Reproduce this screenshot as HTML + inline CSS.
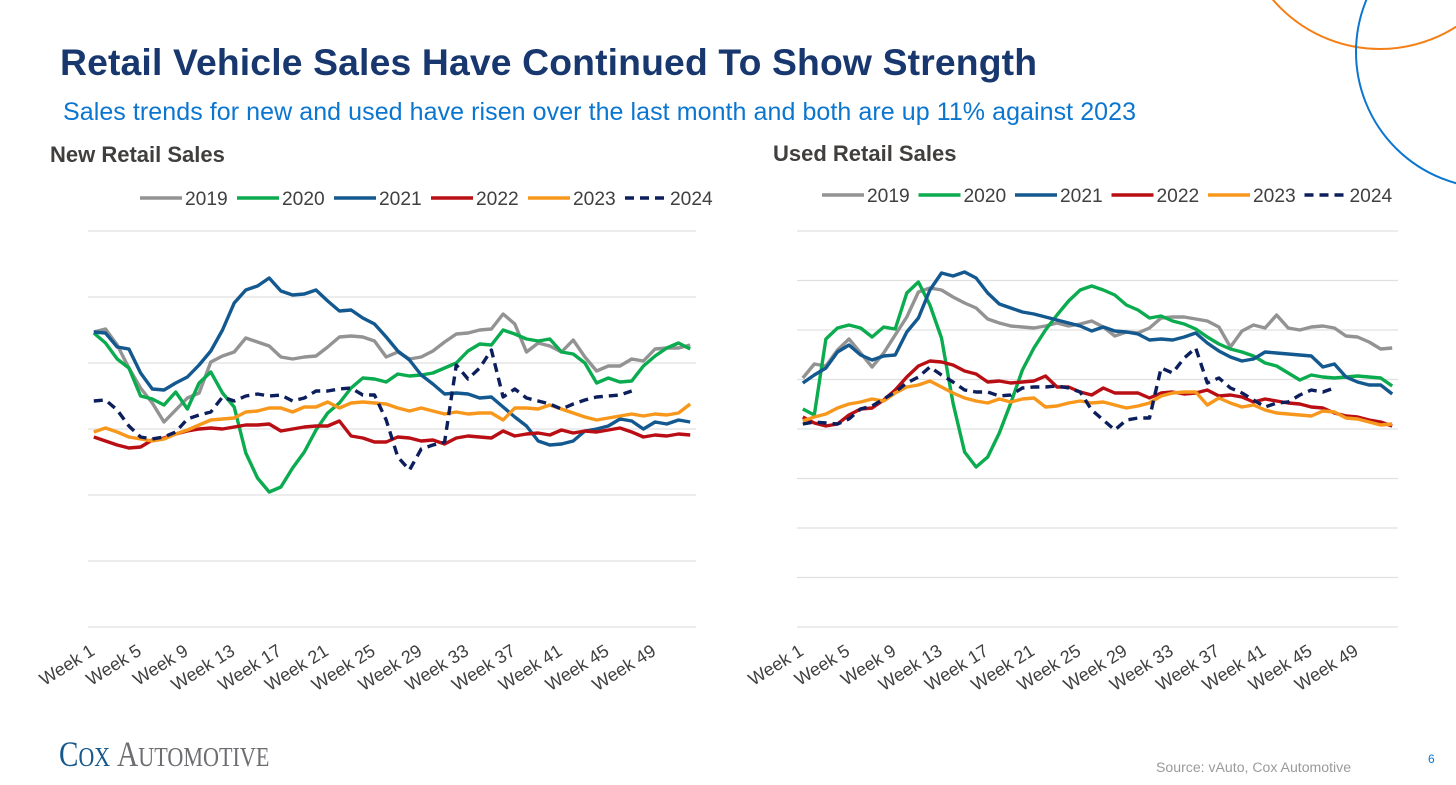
<!DOCTYPE html>
<html lang="en">
<head>
<meta charset="utf-8">
<title>Retail Vehicle Sales Have Continued To Show Strength</title>
<style>
html,body{margin:0;padding:0;background:#fff;}
body{width:1456px;height:785px;overflow:hidden;position:relative;font-family:"Liberation Sans",sans-serif;}
svg{position:absolute;left:0;top:0;}
text{font-family:"Liberation Sans",sans-serif;}
</style>
</head>
<body>
<svg id="slide-svg" width="1456" height="785" viewBox="0 0 1456 785">
  <circle cx="1380" cy="-92" r="141" fill="none" stroke="#f57f17" stroke-width="2"/>
  <circle cx="1492" cy="52" r="136" fill="none" stroke="#0b76d0" stroke-width="2"/>
  <text x="60" y="75" font-size="37.3" font-weight="700" fill="#17376e" textLength="977">Retail Vehicle Sales Have Continued To Show Strength</text>
  <text x="63" y="120" font-size="25" fill="#0b76d0" textLength="1073">Sales trends for new and used have risen over the last month and both are up 11% against 2023</text>
  <text x="50" y="162" font-size="22" font-weight="700" fill="#403f3d">New Retail Sales</text>
  <text x="773" y="161" font-size="22" font-weight="700" fill="#403f3d">Used Retail Sales</text>
  <g id="new-chart"></g>
  <g id="used-chart"></g>
  <text transform="translate(59 766) scale(.81 1)" style="font-family:'Liberation Serif',serif" fill="#17598c"><tspan font-size="36">C</tspan><tspan font-size="27">OX</tspan></text>
  <text transform="translate(117 766) scale(.82 1)" style="font-family:'Liberation Serif',serif" fill="#6d6e71"><tspan font-size="36">A</tspan><tspan font-size="27">UTOMOTIVE</tspan></text>
  <text x="1156" y="772" font-size="14.1" fill="#9a9a9a">Source: vAuto, Cox Automotive</text>
  <text x="1428" y="763" font-size="12" fill="#0b76d0">6</text>
</svg>
<script>
const weekCount = 52;
const tickWeeks = [1,5,9,13,17,21,25,29,33,37,41,45,49];
const seriesYears = ['2019','2020','2021','2022','2023','2024'];
const seriesColors = ['#939393','#0bab4f','#13598f','#b90e14','#f7981d','#0c1f5c'];

const new2019 = [295,298,282,259,239,224,205,217,229,234,265,271,275,289,285,281,270,268,270,271,280,290,291,290,286,270,275,268,270,276,285,293,294,297,298,313,303,275,284,281,275,287,270,256,261,261,268,266,278,279,279,282];
const new2020 = [294,284,268,259,231,228,222,235,218,244,255,234,220,174,149,135,140,159,175,197,214,224,239,249,248,245,253,251,252,254,259,264,276,283,282,297,293,288,286,288,275,273,264,244,249,245,246,261,271,279,284,278];
const new2021 = [295,294,280,278,254,238,237,244,250,262,276,297,324,337,341,349,336,332,333,337,326,316,317,309,303,290,276,267,252,243,233,234,233,229,230,220,210,201,186,182,183,186,196,198,201,208,206,198,205,203,207,205];
const new2022 = [190,186,182,179,180,187,189,193,196,198,199,198,200,202,202,203,196,198,200,201,201,206,191,189,185,185,190,189,186,187,183,189,191,190,189,196,191,193,194,192,197,194,196,195,197,199,195,190,192,191,193,192];
const new2023 = [195,199,195,190,188,186,188,193,197,202,207,208,209,215,216,219,219,215,220,220,225,219,224,225,224,223,219,216,219,216,213,215,213,214,214,207,219,219,218,222,218,214,210,207,209,211,213,211,213,212,214,223];
const new2024 = [226,227,217,201,190,188,190,195,208,212,215,230,226,231,233,231,232,226,229,236,236,238,239,232,232,207,170,157,178,182,185,262,248,259,277,230,238,229,226,223,218,223,227,230,231,232,236];

const used2019 = [249,263,261,277,288,274,260,274,292,310,335,339,337,330,324,319,308,304,301,300,299,301,304,301,303,306,300,291,295,294,299,309,310,310,308,306,300,280,296,302,299,312,299,297,300,301,299,291,290,285,278,279];
const used2020 = [218,212,288,299,302,299,290,300,298,334,345,322,289,224,175,160,170,194,224,257,279,297,312,326,337,341,337,332,322,317,309,311,306,303,298,290,283,278,275,271,264,261,254,247,252,250,249,250,251,250,249,241];
const used2021 = [244,252,259,275,282,272,267,271,272,295,309,337,354,351,355,349,334,323,319,315,313,310,307,304,301,296,300,296,295,293,287,288,287,290,294,284,276,270,266,268,275,274,273,272,271,260,263,250,245,242,242,233];
const used2022 = [210,204,201,203,212,218,219,227,237,250,261,266,265,262,256,253,245,246,244,245,246,251,240,240,235,232,239,234,234,234,229,234,235,233,234,237,231,232,230,225,228,226,224,223,220,219,214,211,210,207,205,201];
const used2023 = [206,210,213,219,223,225,228,226,234,240,242,246,240,234,229,226,224,228,225,228,229,220,221,224,226,224,225,222,219,221,224,231,234,235,235,222,229,224,220,222,217,214,213,212,211,216,215,209,208,205,202,203];
const used2024 = [203,205,204,203,208,218,221,228,235,244,250,260,252,245,237,235,235,231,232,239,240,240,241,239,235,217,207,197,207,209,209,259,254,269,279,244,249,239,234,227,220,224,225,232,237,235,239];

const newSeries = [new2019,new2020,new2021,new2022,new2023,new2024];
const usedSeries = [used2019,used2020,used2021,used2022,used2023,used2024];
const axisMax = 396;
const newGridValues = [0,66,132,198,264,330,396];
const usedGridValues = [0,49.5,99,148.5,198,247.5,297,346.5,396];

const SVGNS = 'http://www.w3.org/2000/svg';

function drawChart(host, prefix, series, gridValues, box, legend) {
  const xScale = function (week) { return box.left + (box.right - box.left) * (week - 0.5) / weekCount; };
  const yScale = function (value) { return box.bottom - (box.bottom - box.top) * value / axisMax; };

  gridValues.forEach(function (value) {
    const grid = document.createElementNS(SVGNS, 'line');
    
    
    grid.setAttribute('x1', box.left);
    grid.setAttribute('x2', box.right);
    grid.setAttribute('y1', yScale(value));
    grid.setAttribute('y2', yScale(value));
    grid.setAttribute('stroke', '#e0e0e0');
    grid.setAttribute('stroke-width', '1.3');
    host.appendChild(grid);
  });

  tickWeeks.forEach(function (week) {
    const tx = xScale(week) + box.labelDx;
    const ty = box.bottom + box.labelDy;
    const label = document.createElementNS(SVGNS, 'text');
    
    
    label.setAttribute('x', tx);
    label.setAttribute('y', ty);
    label.setAttribute('text-anchor', 'end');
    label.setAttribute('font-size', '18');
    label.setAttribute('fill', '#404040');
    label.setAttribute('transform', 'rotate(-32 ' + tx + ' ' + ty + ')');
    label.textContent = 'Week ' + week;
    host.appendChild(label);
  });

  series.forEach(function (values, i) {
    const pts = values.map(function (value, k) { return xScale(k + 1).toFixed(1) + ',' + yScale(value).toFixed(1); });
    const line = document.createElementNS(SVGNS, 'polyline');
    
    
    line.setAttribute('points', pts.join(' '));
    line.setAttribute('fill', 'none');
    line.setAttribute('stroke', seriesColors[i]);
    line.setAttribute('stroke-width', '3.4');
    line.setAttribute('stroke-linejoin', 'round');
    if (seriesYears[i] === '2024') { line.setAttribute('stroke-dasharray', '9 6'); }
    host.appendChild(line);
  });

  seriesYears.forEach(function (year, i) {
    const lx = legend.x + legend.step * i;
    const swatch = document.createElementNS(SVGNS, 'line');
    
    
    swatch.setAttribute('x1', lx);
    swatch.setAttribute('x2', lx + 42);
    swatch.setAttribute('y1', legend.y);
    swatch.setAttribute('y2', legend.y);
    swatch.setAttribute('stroke', seriesColors[i]);
    swatch.setAttribute('stroke-width', '3.4');
    if (year === '2024') { swatch.setAttribute('stroke-dasharray', '9 6'); }
    host.appendChild(swatch);
    const entry = document.createElementNS(SVGNS, 'text');
    
    
    entry.setAttribute('x', lx + 45);
    entry.setAttribute('y', legend.y + 7);
    entry.setAttribute('font-size', '19.2');
    entry.setAttribute('fill', '#404040');
    entry.textContent = year;
    host.appendChild(entry);
  });
}

drawChart(document.getElementById('new-chart'), 'new', newSeries, newGridValues,
  {left: 88, right: 696, top: 231, bottom: 627, labelDx: 2, labelDy: 27},
  {x: 140, y: 198, step: 97});
drawChart(document.getElementById('used-chart'), 'used', usedSeries, usedGridValues,
  {left: 797, right: 1398, top: 231, bottom: 627, labelDx: 2, labelDy: 27},
  {x: 822, y: 195, step: 96.5});
</script>
</body>
</html>
